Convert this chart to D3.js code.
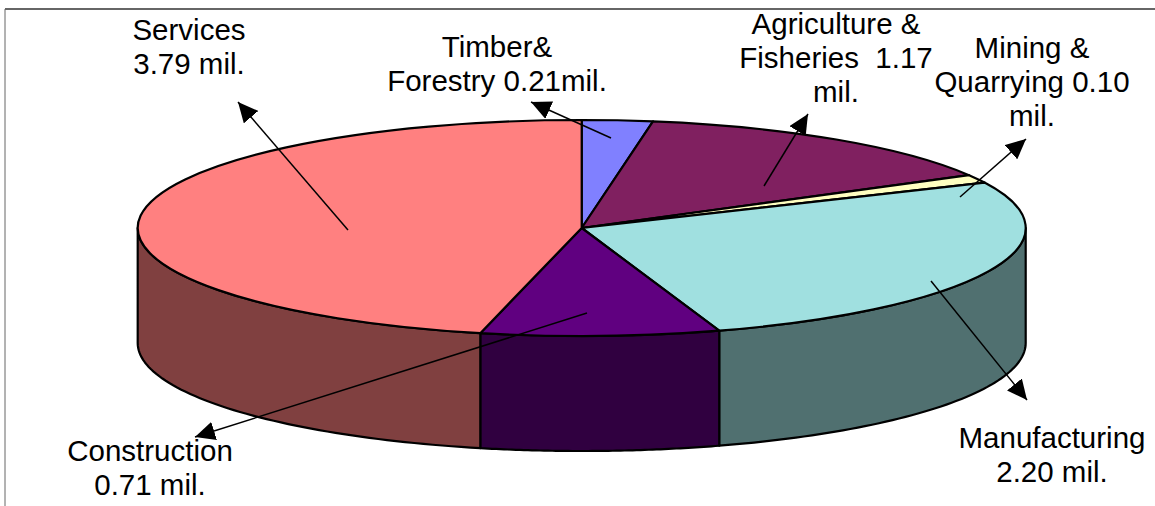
<!DOCTYPE html>
<html>
<head>
<meta charset="utf-8">
<script src="https://d3js.org/d3.v7.min.js"></script>
<style>
    html, body { margin: 0; padding: 0; background: #fff; }
    svg { display: block; }
    text { font-family: "Liberation Sans", Arial, sans-serif; font-size: 29.5px; fill: #000; }
</style>
</head>
<body>
<svg id="chart" width="1155" height="506"></svg>
<script>
// employment by sector, millions
const sectors = ["Timber & Forestry", "Agriculture & Fisheries", "Mining & Quarrying", "Manufacturing", "Construction", "Services"];
const values = [0.21, 1.17, 0.10, 2.20, 0.71, 3.79];
const colors = ["#8080ff", "#802060", "#ffffc0", "#a0e0e0", "#600080", "#ff8080"];
const labels = [
    ["Timber&", "Forestry 0.21mil."],
    ["Agriculture &", "Fisheries  1.17", "mil."],
    ["Mining &", "Quarrying 0.10", "mil."],
    ["Manufacturing", "2.20 mil."],
    ["Construction", "0.71 mil."],
    ["Services", "3.79 mil."]
];

const width = 1155, height = 506;
const cx = 581.7, cy = 228, rx = 444, ry = 108, depth = 115;

// label anchor + first baseline, and leader line start/tip, same order as sectors
const labelPos = [[497, 57], [836, 34], [1032, 58], [1052, 448], [150, 461], [189, 40]];
const leaders = [
    [611, 138, 531, 102],
    [764, 186, 808, 114],
    [960, 197, 1026, 139],
    [931, 281, 1027, 400],
    [587, 313, 195, 437],
    [348, 230, 238, 102]
];
const lineHeight = 34;

const svg = d3.select("#chart");

svg.append("defs").append("marker")
    .attr("id", "head")
    .attr("viewBox", "0 0 20 19")
    .attr("refX", 20)
    .attr("refY", 9.5)
    .attr("markerUnits", "userSpaceOnUse")
    .attr("markerWidth", 20)
    .attr("markerHeight", 19)
    .attr("orient", "auto")
    .append("path")
    .attr("d", "M0,0L20,9.5L0,19Z")
    .attr("fill", "#000");

// frame only shows on the top and left in the source
svg.append("line").attr("x1", 5).attr("y1", 9).attr("x2", width).attr("y2", 9)
    .attr("stroke", "#333").attr("stroke-width", 1.5);
svg.append("line").attr("x1", 5).attr("y1", 9).attr("x2", 5).attr("y2", height)
    .attr("stroke", "#666").attr("stroke-width", 1);

const slices = d3.pie().sort(null)(values);

// point on the rim, angle measured clockwise from the top like d3.arc
let rim = (a, dy) => [cx + rx * Math.sin(a), cy - ry * Math.cos(a) + dy];

// side walls, only the front half of the disc can be seen
const sideLine = d3.line();
let sidePath = (d) => {
    let a0 = Math.max(d.startAngle, Math.PI / 2);
    let a1 = Math.min(d.endAngle, Math.PI * 1.5);
    if (a0 >= a1) return null;
    let ts = d3.range(0, 61).map((i) => a0 + (a1 - a0) * i / 60);
    let pts = ts.map((a) => rim(a, 0)).concat(ts.slice().reverse().map((a) => rim(a, depth)));
    return sideLine(pts) + "Z";
};

svg.append("g")
    .selectAll("path")
    .data(slices)
    .enter()
    .append("path")
    .attr("d", sidePath)
    .attr("fill", (d, i) => {
        let c = d3.rgb(colors[i]);
        return d3.rgb(c.r * 0.5, c.g * 0.5, c.b * 0.5);
    })
    .attr("stroke", "#000")
    .attr("stroke-width", 2.2)
    .attr("stroke-linejoin", "round");

// top face is a circular pie squashed vertically
const arc = d3.arc().innerRadius(0).outerRadius(rx);
svg.append("g")
    .attr("transform", `translate(${cx},${cy}) scale(1,${ry / rx})`)
    .selectAll("path")
    .data(slices)
    .enter()
    .append("path")
    .attr("d", arc)
    .attr("fill", (d, i) => colors[i])
    .attr("stroke", "#000")
    .attr("stroke-width", 2.2)
    .attr("stroke-linejoin", "round")
    .attr("vector-effect", "non-scaling-stroke");

svg.append("g")
    .selectAll("line")
    .data(leaders)
    .enter()
    .append("line")
    .attr("x1", (d) => d[0])
    .attr("y1", (d) => d[1])
    .attr("x2", (d) => d[2])
    .attr("y2", (d) => d[3])
    .attr("stroke", "#000")
    .attr("stroke-width", 1.5)
    .attr("marker-end", "url(#head)");

const labelText = svg.append("g")
    .selectAll("text")
    .data(labels)
    .enter()
    .append("text")
    .attr("text-anchor", "middle")
    .attr("x", (d, i) => labelPos[i][0])
    .attr("y", (d, i) => labelPos[i][1])
    .attr("xml:space", "preserve")
    .style("white-space", "pre");

labelText.selectAll("tspan")
    .data((d) => d)
    .enter()
    .append("tspan")
    .attr("x", function () { return this.parentNode.getAttribute("x"); })
    .attr("dy", (d, i) => i === 0 ? 0 : lineHeight)
    .text((d) => d);
</script>
</body>
</html>
